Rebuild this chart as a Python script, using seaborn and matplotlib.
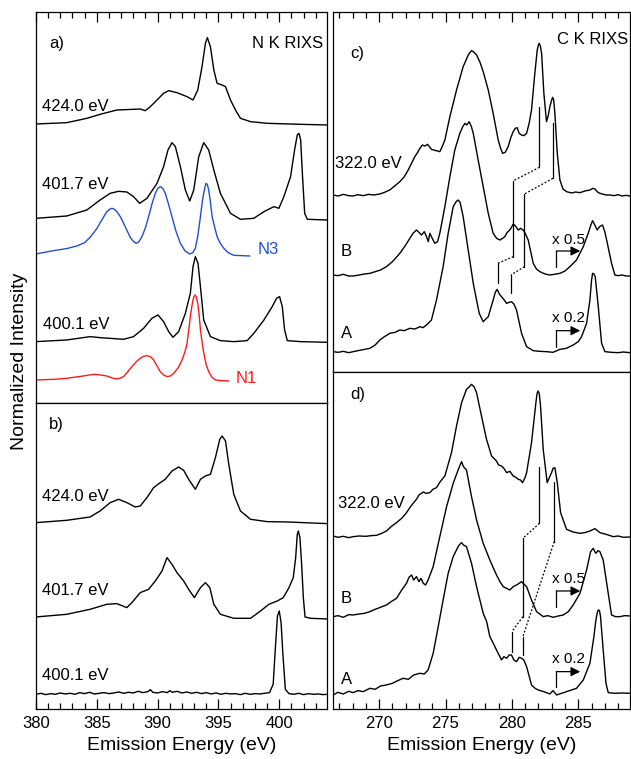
import numpy as np
import pandas as pd
import matplotlib
matplotlib.use("Agg")
import matplotlib.pyplot as plt
from matplotlib.ticker import MultipleLocator
import seaborn as sns

# ---------------- data (emission energy in eV, intensity in arbitrary units) -------------
# Panel a) N K RIXS
A424_E = [380.0, 382.53, 384.18, 385.27, 386.65, 388.02, 388.57, 388.98, 389.40, 389.95, 390.49, 390.91, 391.59, 392.42, 392.91, 393.30, 393.65, 393.93, 394.09, 394.34, 394.62, 394.89, 395.30, 395.58, 395.99, 396.40, 396.81, 397.64, 399.01, 401.76, 403.96]
A424_I = [0, 4, 17, 29, 42, 44, 45, 40, 52, 72, 92, 100, 94, 82, 72, 102, 172, 242, 259, 232, 162, 122, 117, 112, 72, 42, 17, 7, 2, -1, -3]

A401_E = [380.0, 382.53, 384.18, 385.27, 386.10, 386.79, 387.47, 388.02, 388.52, 389.12, 389.95, 390.49, 390.85, 391.18, 391.46, 391.87, 392.28, 392.64, 392.97, 393.38, 393.79, 394.20, 394.62, 395.16, 395.99, 396.81, 397.91, 398.74, 399.56, 399.97, 400.38, 400.93, 401.26, 401.48, 401.62, 401.76, 401.90, 402.09, 402.31, 403.96]
A401_I = [0, 7, 25, 55, 75, 81, 79, 65, 45, 60, 105, 155, 205, 227, 215, 155, 85, 52, 85, 185, 227, 205, 145, 75, 15, -3, 0, 20, 35, 30, 65, 125, 205, 250, 255, 235, 135, 15, -3, -5]

N3_E = [380.0, 381.43, 382.5, 383.35, 384.0, 384.45, 385.0, 385.41, 385.82, 386.05, 386.24, 386.45, 386.65, 386.95, 387.20, 387.5, 387.75, 388.0, 388.24, 388.45, 388.71, 389.0, 389.26, 389.55, 389.81, 390.0, 390.22, 390.42, 390.63, 390.9, 391.18, 391.5, 391.87, 392.25, 392.64, 392.9, 393.10, 393.3, 393.52, 393.68, 393.79, 393.9, 393.98, 394.08, 394.20, 394.33, 394.48, 394.7, 394.89, 395.15, 395.44, 395.8, 396.26, 397.58]
N3_I = [6, 16, 22, 30, 40, 56, 82, 108, 133, 140, 143, 140, 133, 117, 98, 75, 56, 44, 38, 42, 58, 85, 118, 158, 188, 202, 208, 203, 188, 155, 118, 75, 38, 15, 6, 10, 23, 60, 118, 165, 188, 208, 218, 215, 198, 165, 118, 85, 58, 38, 23, 10, 2, 0]

A400_E = [380.0, 382.53, 384.45, 385.27, 387.20, 388.02, 388.85, 389.53, 390.03, 390.49, 390.91, 391.26, 391.73, 392.28, 392.69, 392.91, 393.10, 393.32, 393.52, 393.79, 394.34, 395.16, 396.26, 397.36, 397.91, 398.74, 399.42, 399.78, 400.03, 400.25, 400.44, 400.66, 401.76, 403.96]
A400_I = [0, 5, 15, 12, 7, 15, 40, 70, 80, 60, 30, 13, 30, 85, 145, 225, 255, 235, 165, 65, 15, 3, 0, 3, 25, 65, 105, 130, 135, 105, 35, 3, 0, -2]

N1_E = [380.0, 381.5, 382.53, 383.3, 383.90, 384.4, 384.86, 385.3, 385.82, 386.25, 386.65, 386.9, 387.20, 387.55, 387.88, 388.25, 388.57, 388.85, 389.12, 389.4, 389.67, 389.95, 390.22, 390.5, 390.77, 391.05, 391.32, 391.7, 392.01, 392.25, 392.42, 392.58, 392.69, 392.82, 392.91, 393.0, 393.08, 393.18, 393.30, 393.42, 393.52, 393.68, 393.85, 394.0, 394.20, 394.45, 394.75, 395.2, 395.85]
N1_I = [3, 5, 8, 12, 15, 18, 20, 18, 15, 9, 6, 8, 13, 28, 43, 58, 68, 74, 76, 73, 63, 45, 28, 18, 13, 15, 23, 40, 63, 88, 113, 160, 193, 225, 243, 254, 258, 252, 233, 195, 153, 110, 73, 48, 28, 12, 3, 1, 0]

# Panel b)
B424_E = [380.0, 382.53, 384.45, 385.27, 386.10, 386.79, 387.47, 388.16, 388.57, 389.12, 389.67, 390.22, 390.63, 391.18, 391.73, 392.14, 392.55, 393.10, 393.52, 393.93, 394.34, 394.75, 395.11, 395.30, 395.58, 395.85, 396.26, 396.81, 397.64, 399.01, 400.66, 403.96]
B424_I = [0, 7, 17, 35, 60, 70, 60, 47, 50, 75, 105, 120, 130, 155, 167, 157, 130, 100, 130, 140, 145, 195, 250, 260, 245, 175, 85, 35, 10, 3, 2, -3]

B401_E = [380.0, 382.53, 384.45, 385.82, 386.65, 387.47, 387.88, 388.57, 389.26, 389.81, 390.36, 390.77, 391.18, 391.59, 392.14, 392.55, 393.02, 393.52, 393.93, 394.29, 394.62, 395.16, 396.26, 397.64, 398.46, 399.15, 399.84, 400.33, 400.80, 401.15, 401.35, 401.48, 401.57, 401.70, 401.84, 401.98, 402.12, 402.58, 403.96]
B401_I = [2, 10, 25, 40, 42, 30, 45, 75, 85, 110, 140, 180, 160, 135, 110, 85, 60, 90, 105, 90, 40, 10, -2, -2, 20, 40, 50, 60, 90, 120, 180, 250, 260, 240, 160, 60, 2, -2, -4]

B400_E = [380.0, 380.4, 380.8, 381.2, 381.6, 382.0, 382.4, 382.8, 383.2, 383.6, 384.0, 384.4, 384.8, 385.2, 385.6, 386.0, 386.4, 386.8, 387.2, 387.6, 388.0, 388.4, 388.8, 389.2, 389.4, 389.6, 390.0, 390.4, 390.8, 391.0, 391.2, 391.6, 392.0, 392.4, 392.8, 393.2, 393.6, 394.0, 394.4, 394.8, 395.2, 395.6, 396.0, 396.4, 396.8, 397.2, 397.6, 398.0, 398.4, 398.8, 399.2, 399.5, 399.7, 399.85, 400.0, 400.15, 400.3, 400.5, 400.8, 401.2, 401.6, 402.0, 402.4, 402.8, 403.2, 403.6, 403.95]
B400_I = [0, 3, -1, 2, 0, 4, 1, 3, 0, 5, 2, 6, 1, 3, 5, 2, 4, 7, 3, 6, 4, 9, 5, 8, 14, 6, 4, 8, 5, 11, 6, 9, 4, 7, 3, 6, 2, 5, 1, 4, 0, 3, 1, 2, -1, 3, 0, 2, 1, 3, 5, 30, 150, 235, 250, 215, 120, 15, 2, 0, 3, -1, 2, 0, 1, -1, 0]

# Panel c) C K RIXS
C322_E = [266.53, 266.9, 267.3, 267.7, 268.04, 268.4, 268.8, 269.2, 269.6, 270.05, 270.4, 270.80, 271.2, 271.56, 271.9, 272.19, 272.45, 272.69, 272.9, 273.07, 273.25, 273.44, 273.65, 273.94, 274.2, 274.57, 274.75, 274.95, 275.33, 275.83, 276.33, 276.55, 276.71, 276.85, 276.96, 277.1, 277.34, 277.6, 277.84, 278.22, 278.59, 278.97, 279.15, 279.30, 279.5, 279.72, 279.9, 280.10, 280.25, 280.40, 280.55, 280.73, 280.9, 281.11, 281.3, 281.48, 281.73, 281.91, 282.0, 282.06, 282.14, 282.24, 282.41, 282.61, 282.75, 282.86, 283.0, 283.07, 283.15, 283.24, 283.42, 283.62, 283.85, 284.12, 284.5, 284.8, 285.13, 285.5, 285.88, 286.1, 286.26, 286.51, 286.8, 287.1, 287.39, 287.7, 288.0, 288.3, 288.6, 288.89]
C322_I = [0, -3, 2, -2, -3, 1, -2, 2, 0, 3, 8, 15, 28, 40, 55, 75, 96, 115, 128, 140, 150, 147, 152, 137, 134, 130, 145, 165, 235, 315, 385, 405, 420, 428, 433, 430, 420, 398, 370, 315, 245, 165, 140, 125, 128, 145, 170, 190, 200, 202, 185, 180, 178, 185, 215, 255, 365, 435, 450, 455, 448, 425, 305, 220, 240, 265, 285, 293, 285, 245, 125, 45, 18, 10, 6, 9, 7, 12, 15, 20, 18, 7, 3, 0, 0, -2, 1, -3, -1, -3]

CB_E = [266.53, 266.9, 267.3, 267.7, 268.04, 268.5, 268.9, 269.30, 269.7, 270.1, 270.55, 271.0, 271.56, 272.0, 272.31, 272.55, 272.81, 273.0, 273.19, 273.4, 273.57, 273.7, 273.82, 274.0, 274.20, 274.4, 274.57, 274.95, 275.33, 275.70, 276.08, 276.3, 276.46, 276.6, 276.78, 276.95, 277.09, 277.46, 277.84, 278.22, 278.59, 278.85, 279.10, 279.3, 279.47, 279.65, 279.85, 280.0, 280.10, 280.25, 280.48, 280.65, 280.85, 281.0, 281.23, 281.61, 281.85, 282.11, 282.5, 282.86, 283.2, 283.62, 284.0, 284.37, 284.87, 285.38, 285.75, 285.95, 286.08, 286.25, 286.43, 286.6, 286.83, 287.0, 287.14, 287.51, 287.76, 288.0, 288.3, 288.6, 288.89]
CB_I = [0, -2, 2, -3, -3, 0, 3, 5, 10, 15, 25, 40, 65, 90, 110, 125, 135, 128, 120, 130, 115, 100, 125, 110, 95, 100, 125, 205, 295, 375, 425, 445, 455, 450, 460, 445, 425, 345, 265, 185, 125, 110, 105, 110, 115, 128, 135, 145, 153, 148, 135, 140, 135, 125, 105, 35, 18, 10, 3, 0, 2, 5, 12, 25, 45, 85, 125, 150, 163, 150, 135, 145, 150, 130, 105, 35, 0, -2, 0, -3, -3]

CA_E = [266.53, 266.9, 267.3, 267.7, 268.04, 268.4, 268.8, 269.30, 269.7, 270.05, 270.4, 270.80, 271.2, 271.56, 271.9, 272.31, 272.7, 273.07, 273.3, 273.57, 273.94, 274.32, 274.82, 275.20, 275.58, 275.8, 275.95, 276.1, 276.33, 276.71, 277.09, 277.54, 277.84, 278.22, 278.59, 278.75, 278.89, 279.05, 279.22, 279.4, 279.60, 279.8, 279.97, 280.15, 280.35, 280.73, 281.11, 281.61, 282.1, 282.61, 283.1, 283.62, 284.1, 284.62, 285.0, 285.25, 285.63, 285.88, 286.0, 286.08, 286.18, 286.28, 286.51, 286.76, 287.01, 287.5, 288.0, 288.4, 288.89]
CA_I = [2, 0, 3, -1, 2, 5, 8, 12, 22, 37, 47, 57, 60, 67, 65, 72, 70, 77, 74, 82, 97, 157, 257, 357, 437, 452, 457, 450, 407, 307, 207, 117, 92, 107, 157, 180, 189, 175, 167, 158, 147, 150, 152, 145, 127, 57, 17, 5, 3, 2, 0, 9, 12, 22, 32, 47, 87, 157, 215, 237, 235, 227, 137, 27, 2, 0, -1, 1, -1]

# Panel d)
D322_E = [266.53, 266.9, 267.3, 267.7, 268.04, 268.5, 269.0, 269.40, 269.80, 270.2, 270.55, 270.9, 271.31, 271.7, 272.06, 272.4, 272.81, 273.0, 273.32, 273.55, 273.82, 274.05, 274.32, 274.6, 274.95, 275.45, 275.83, 276.21, 276.58, 276.8, 276.96, 277.15, 277.34, 277.71, 278.09, 278.47, 278.84, 279.0, 279.22, 279.4, 279.60, 279.85, 280.10, 280.3, 280.48, 280.65, 280.80, 281.0, 281.11, 281.48, 281.81, 281.9, 281.98, 282.07, 282.16, 282.36, 282.66, 282.85, 282.99, 283.1, 283.24, 283.42, 283.67, 284.12, 284.6, 285.13, 285.5, 285.88, 286.26, 286.63, 287.1, 287.64, 288.0, 288.4, 288.89]
D322_I = [2, -2, 1, -3, 0, 2, 1, 3, 4, 10, 17, 30, 42, 55, 72, 92, 112, 125, 134, 130, 132, 142, 147, 165, 182, 252, 332, 402, 442, 450, 457, 450, 432, 362, 292, 242, 227, 215, 212, 205, 192, 196, 182, 178, 172, 170, 162, 178, 192, 282, 402, 430, 437, 428, 392, 262, 162, 180, 192, 205, 207, 162, 72, 22, 14, 10, 12, 17, 24, 12, 7, 0, 2, -2, -1]

DB_E = [266.53, 266.9, 267.3, 267.7, 268.04, 268.5, 268.9, 269.30, 269.7, 270.1, 270.55, 270.9, 271.31, 271.7, 272.06, 272.25, 272.44, 272.6, 272.81, 273.0, 273.15, 273.32, 273.5, 273.69, 274.07, 274.57, 275.08, 275.58, 275.95, 276.1, 276.21, 276.35, 276.58, 276.96, 277.34, 277.84, 278.34, 278.84, 279.1, 279.35, 279.6, 279.85, 280.1, 280.35, 280.55, 280.73, 280.9, 281.11, 281.48, 281.86, 282.36, 282.7, 283.12, 283.5, 283.87, 284.25, 284.62, 285.13, 285.63, 285.93, 286.13, 286.25, 286.33, 286.48, 286.63, 286.88, 287.26, 287.51, 287.8, 288.14, 288.5, 288.89]
DB_I = [0, 3, -2, 6, 5, 8, 10, 15, 22, 28, 35, 45, 55, 80, 100, 118, 125, 110, 120, 105, 115, 100, 95, 110, 150, 240, 330, 400, 440, 455, 465, 450, 440, 360, 290, 220, 170, 125, 105, 90, 85, 80, 90, 95, 100, 105, 98, 90, 50, 15, 0, 3, -2, 2, 5, 15, 35, 70, 140, 195, 205, 195, 190, 198, 195, 170, 70, 5, 0, 0, 3, 2]

DA_E = [266.53, 266.9, 267.3, 267.7, 268.04, 268.4, 268.8, 269.30, 269.7, 270.1, 270.55, 271.0, 271.4, 271.81, 272.2, 272.6, 273.07, 273.4, 273.69, 274.07, 274.45, 274.82, 275.20, 275.58, 275.95, 276.1, 276.21, 276.35, 276.58, 276.96, 277.34, 277.84, 278.1, 278.34, 278.6, 278.84, 279.22, 279.4, 279.60, 279.8, 279.97, 280.15, 280.35, 280.55, 280.73, 280.9, 281.11, 281.48, 281.75, 281.98, 282.4, 282.86, 283.1, 283.37, 284.12, 284.87, 285.38, 285.88, 286.18, 286.33, 286.45, 286.51, 286.6, 286.68, 286.88, 287.09, 287.26, 287.8, 288.3, 288.89]
DA_I = [-5, 3, -2, 6, 2, 8, 5, 15, 12, 22, 25, 30, 38, 45, 42, 55, 60, 58, 70, 120, 200, 280, 360, 410, 440, 448, 452, 445, 440, 390, 320, 240, 215, 170, 150, 130, 100, 110, 105, 115, 115, 100, 95, 108, 105, 100, 80, 25, 15, 10, 5, -2, 8, -5, 5, 15, 40, 90, 170, 220, 245, 250, 248, 230, 130, 30, 2, 0, 1, 0]

# feature markers (energy, y-from, y-to) and dotted connectors
C_MARKS = [(282.08, 614, 796), (280.12, 346, 574), (278.92, 266, 326),
           (283.09, 581, 746), (280.95, 316, 534), (279.92, 236, 291)]
C_LINKS = [((282.08, 614), (280.12, 574)), ((280.12, 346), (278.92, 326)),
           ((283.09, 581), (280.95, 534)), ((280.95, 316), (279.92, 291))]
D_MARKS = [(282.08, 558, 728), (280.83, 278, 513), (280.0, 173, 233),
           (283.19, 503, 683), (280.83, 163, 218)]
D_LINKS = [((282.08, 558), (280.83, 513)), ((280.83, 278), (280.0, 233)),
           ((283.19, 503), (280.83, 218))]

# ---------------- figure ----------------
sns.set_style("ticks")
plt.rcParams['font.family'] = ['Liberation Sans', 'DejaVu Sans']
plt.rcParams['text.color'] = 'black'
plt.rcParams['axes.labelcolor'] = 'black'
plt.rcParams['xtick.color'] = 'black'

W, H = 631, 759
fig = plt.figure(figsize=(W / 100, H / 100), dpi=100)


def box(x0, y0, x1, y1):
    return [x0 / W, 1 - y1 / H, (x1 - x0) / W, (y1 - y0) / H]


ax_a = fig.add_axes(box(36, 12, 327.3, 403.3))
ax_b = fig.add_axes(box(36, 403.3, 327.3, 709.3))
ax_c = fig.add_axes(box(332.7, 12, 630, 372))
ax_d = fig.add_axes(box(332.7, 372, 630, 709.3))

LW = 1.0


def curve(ax, E, I, offset, color='black'):
    df = pd.DataFrame({'E': E, 'I': np.asarray(I, float) + offset})
    sns.lineplot(data=df, x='E', y='I', ax=ax, color=color, lw=LW,
                 sort=False, estimator=None)


def style(ax, xlim, ylim, top):
    ax.set_xlim(*xlim)
    ax.set_ylim(*ylim)
    ax.xaxis.set_major_locator(MultipleLocator(5))
    ax.xaxis.set_minor_locator(MultipleLocator(1))
    ax.tick_params(axis='x', which='both', direction='in', width=0.9,
                   top=top, bottom=not top, labelbottom=not top,
                   labeltop=False, labelsize=12, pad=5, colors='black')
    ax.tick_params(axis='x', which='major', length=7.5)
    ax.tick_params(axis='x', which='minor', length=4)
    ax.set_yticks([])
    ax.set_ylabel('')
    ax.set_xlabel('')
    for s in ax.spines.values():
        s.set_linewidth(0.9)
        s.set_color('black')


# panel a
curve(ax_a, A424_E, A424_I, 838)
curve(ax_a, A401_E, A401_I, 555)
curve(ax_a, N3_E, N3_I, 442, color='#1f4fd6')
curve(ax_a, A400_E, A400_I, 185)
curve(ax_a, N1_E, N1_I, 67, color='#ff1a1a')
style(ax_a, (380, 403.95), (0, 1174), top=True)
fs = 12
ax_a.text(381.1, 1080, 'a)', fontsize=fs, va='center')
ax_a.text(403.6, 1080, 'N K RIXS', fontsize=fs, va='center', ha='right')
ax_a.text(380.5, 890, '424.0 eV', fontsize=fs, va='center')
ax_a.text(380.5, 655, '401.7 eV', fontsize=fs, va='center')
ax_a.text(380.6, 235, '400.1 eV', fontsize=fs, va='center')
ax_a.text(398.2, 460, 'N3', fontsize=fs, va='center', color='#1f4fd6')
ax_a.text(396.4, 75, 'N1', fontsize=fs, va='center', color='#ff1a1a')

# panel b
curve(ax_b, B424_E, B424_I, 560)
curve(ax_b, B401_E, B401_I, 275)
curve(ax_b, B400_E, B400_I, 45)
style(ax_b, (380, 403.95), (0, 918), top=False)
ax_b.text(381.1, 855, 'b)', fontsize=fs, va='center')
ax_b.text(380.5, 637, '424.0 eV', fontsize=fs, va='center')
ax_b.text(380.5, 355, '401.7 eV', fontsize=fs, va='center')
ax_b.text(380.5, 100, '400.1 eV', fontsize=fs, va='center')
ax_b.set_xlabel('Emission Energy (eV)', fontsize=14, labelpad=4)

# panel c
curve(ax_c, C322_E, C322_I, 531)
curve(ax_c, CB_E, CB_I, 291)
curve(ax_c, CA_E, CA_I, 59)
style(ax_c, (266.5, 288.9), (0, 1080), top=True)
ax_c.text(267.8, 956, 'c)', fontsize=fs, va='center')
ax_c.text(288.75, 996, 'C K RIXS', fontsize=fs, va='center', ha='right')
ax_c.text(266.7, 626, '322.0 eV', fontsize=fs, va='center')
ax_c.text(267.1, 361, 'B', fontsize=fs, va='center')
ax_c.text(267.1, 116, 'A', fontsize=fs, va='center')

# panel d
curve(ax_d, D322_E, D322_I, 518)
curve(ax_d, DB_E, DB_I, 278)
curve(ax_d, DA_E, DA_I, 48)
style(ax_d, (266.5, 288.9), (0, 1012), top=False)
ax_d.text(267.8, 943, 'd)', fontsize=fs, va='center')
ax_d.text(266.9, 618, '322.0 eV', fontsize=fs, va='center')
ax_d.text(267.1, 333, 'B', fontsize=fs, va='center')
ax_d.text(267.1, 90, 'A', fontsize=fs, va='center')
ax_d.set_xlabel('Emission Energy (eV)', fontsize=14, labelpad=4)


def markers(ax, marks, links):
    for e, y0, y1 in marks:
        ax.plot([e, e], [y0, y1], color='black', lw=0.9)
    for (e0, y0), (e1, y1) in links:
        ax.plot([e0, e1], [y0, y1], color='black', lw=0.9, ls=(0, (1.5, 1.5)))


def scale_arrow(ax, y0, y1, ytext, label):
    ax.plot([283.34, 283.34], [y0, y1], color='black', lw=0.9)
    ax.annotate('', xy=(285.15, y1), xytext=(283.34, y1),
                arrowprops=dict(arrowstyle='-|>', color='black', lw=0.9,
                                mutation_scale=14, shrinkA=0, shrinkB=0))
    ax.text(283.0, ytext, label, fontsize=11, va='center')


markers(ax_c, C_MARKS, C_LINKS)
markers(ax_d, D_MARKS, D_LINKS)
scale_arrow(ax_c, 316, 363, 396, 'x 0.5')
scale_arrow(ax_c, 76, 124, 163, 'x 0.2')
scale_arrow(ax_d, 308, 355, 390, 'x 0.5')
scale_arrow(ax_d, 66, 113, 150, 'x 0.2')

fig.text(20 / W, 1 - 361 / H, 'Normalized Intensity', rotation=90,
         fontsize=14, ha='center', va='center')

fig.savefig('out.png', dpi=100)
